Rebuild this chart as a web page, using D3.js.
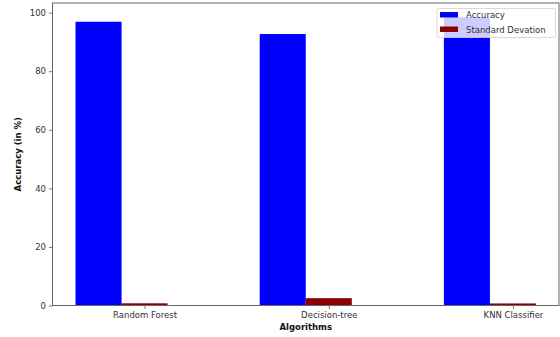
<!DOCTYPE html>
<html>
<head>
<meta charset="utf-8">
<script src="https://cdn.jsdelivr.net/npm/d3@7"></script>
<style>
html,body{margin:0;padding:0;background:#fff;}
svg{display:block;font-family:"DejaVu Sans",sans-serif;}
</style>
</head>
<body>
<svg id="chart" width="560" height="337"></svg>
<script>
const categories = ["Random Forest", "Decision-tree", "KNN Classifier"];
const accuracy = [96.9, 92.7, 98.4];
const stdDev = [0.75, 2.5, 0.7];
const yTicks = [0, 20, 40, 60, 80, 100];
const seriesNames = ["Accuracy", "Standard Devation"];
const seriesColors = ["#0000ff", "#8b0000"];

const svg = d3.select("#chart");
const L = 52.5, R = 559, T = 3, B = 305.5;

const x = d3.scaleLinear().domain([-0.5, categories.length - 0.75]).range([L, R]);
const y = d3.scaleLinear().domain([0, 103.3]).range([B, T]);
const w = 0.25;

const g = svg.append("g");
// accuracy bars
g.selectAll("rect.acc").data(accuracy).join("rect")
  .attr("class","acc")
  .attr("x",(d,i)=>x(i - 0.375))
  .attr("width",(d,i)=>x(i - 0.125) - x(i - 0.375))
  .attr("y",d=>y(d))
  .attr("height",d=>y(0)-y(d))
  .attr("fill",seriesColors[0]);
// std bars
g.selectAll("rect.std").data(stdDev).join("rect")
  .attr("class","std")
  .attr("x",(d,i)=>x(i - 0.125))
  .attr("width",(d,i)=>x(i + 0.125) - x(i - 0.125))
  .attr("y",d=>y(d))
  .attr("height",d=>y(0)-y(d))
  .attr("fill",seriesColors[1]);

// axes
const yAxis = d3.axisLeft(y).tickValues(yTicks).tickSize(3.5).tickPadding(3);
const ya = svg.append("g").attr("transform",`translate(${L},0)`).call(yAxis);
const xAxis = d3.axisBottom(x).tickValues(d3.range(categories.length)).tickFormat(i=>categories[i]).tickSize(3.5).tickPadding(3);
const xa = svg.append("g").attr("transform",`translate(0,${B})`).call(xAxis);
[ya,xa].forEach(a=>{
  a.select(".domain").remove();
  a.selectAll("line").attr("stroke","#555").attr("stroke-width",0.8);
  a.selectAll("text").attr("fill","#333").style("font-size","8.5px").style("font-family","DejaVu Sans");
});

// frame
svg.append("rect").attr("x",L).attr("y",T).attr("width",R-L).attr("height",B-T)
  .attr("fill","none").attr("stroke","#666").attr("stroke-width",1);

// labels
svg.append("text").attr("x",(L+R)/2).attr("y",330).attr("text-anchor","middle")
  .style("font-size","8.5px").style("font-weight","bold").attr("fill","#111").text("Algorithms");
svg.append("text").attr("transform",`translate(21,${(T+B)/2}) rotate(-90)`).attr("text-anchor","middle")
  .style("font-size","8.5px").style("font-weight","bold").attr("fill","#111").text("Accuracy (in %)");

// legend
const lg = svg.append("g");
lg.append("rect").attr("x",437).attr("y",8.5).attr("width",118.5).attr("height",29).attr("rx",2)
  .attr("fill","white").attr("fill-opacity",0.8).attr("stroke","#d0d0d0").attr("stroke-width",0.8);
seriesNames.forEach((n,i)=>{
  lg.append("rect").attr("x",440).attr("y",12+i*14.5).attr("width",18).attr("height",5.5).attr("fill",seriesColors[i]);
  lg.append("text").attr("x",466).attr("y",18+i*14.5).style("font-size","8.5px").attr("fill","#333").text(n);
});
</script>
</body>
</html>
